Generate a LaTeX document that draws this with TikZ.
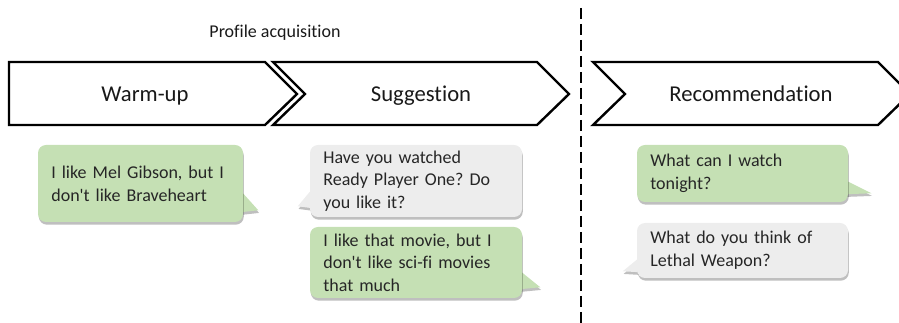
\documentclass[tikz,border=0pt]{standalone}
\usepackage{fontspec}
\setmainfont{Carlito}[Ligatures={NoCommon}]
\usetikzlibrary{shadows,backgrounds}
\definecolor{usergreen}{HTML}{C5E0B4}
\definecolor{botgrey}{HTML}{EDEDED}
\frenchspacing

\begin{document}
\begin{tikzpicture}[x=0.75pt,y=-0.75pt]
  \tikzset{stage/.style={draw=black, line width=1.8pt, line join=miter}}
  \tikzset{stage label/.style={font=\fontsize{17}{20}\selectfont, text=black!90, anchor=base}}
  \tikzset{soft shadow/.style={drop shadow={shadow xshift=0.6pt, shadow yshift=-2pt, fill=black, opacity=0.25}}}
  \tikzset{msg/.style={rounded corners=6pt, inner xsep=10pt, inner ysep=0pt, align=left,
      font=\fontsize{13.5}{17}\selectfont, text=black!85, soft shadow}}
  \tikzset{user/.style={msg, fill=usergreen}}
  \tikzset{bot/.style={msg, fill=botgrey}}

  \useasboundingbox (0,0) rectangle (899,323);
  \clip (0,0) rectangle (899,323);

  % phases
  \node[font=\fontsize{13.5}{16}\selectfont, text=black!90, anchor=base] (profile) at (275,38) {Profile acquisition};
  \draw[stage] (9,62) -- (265,62) -- (297,94) -- (265,125) -- (9,125) -- cycle;
  \draw[stage] (273,62) -- (537,62) -- (569,94) -- (537,125) -- (273,125) -- (305,94) -- cycle;
  \draw[stage] (593,62) -- (878,62) -- (910,94) -- (878,125) -- (593,125) -- (625,94) -- cycle;
  \node[stage label] (warmup) at (145,102) {Warm-up};
  \node[stage label] (suggestion) at (421,102) {Suggestion};
  \node[stage label] (recommendation) at (751,102) {Recommendation};

  \coordinate (split top) at (581,8);
  \coordinate (split bottom) at (581,323);
  \draw[line width=1pt, dash pattern=on 8.25pt off 3.75pt] (split top) -- (split bottom);

  % messages
  \node[user, text width=133.75pt, minimum height=57.75pt] (mel) at (140.5,183.5)
    {I like Mel Gibson, but I\\ don\textquotesingle t like Braveheart};
  \node[bot, text width=139pt, minimum height=54pt] (rpo) at (416,181)
    {Have you watched\\ Ready Player One? Do\\ you like it?};
  \node[user, text width=139pt, minimum height=53.25pt] (scifi) at (416,262.5)
    {I like that movie, but I\\ don\textquotesingle t like sci-fi movies\\ that much};
  \node[user, text width=138.25pt, minimum height=42.75pt] (tonight) at (742.5,173.5)
    {What can I watch\\ tonight?};
  \node[bot, text width=138.25pt, minimum height=41.25pt] (lethal) at (742.5,250.5)
    {What do you think of\\ Lethal Weapon?};

  \begin{pgfonlayer}{background}
    \fill[usergreen, soft shadow] (mel.south east) ++(-3,-32) -- ++(18,20) -- ++(-18,2) -- cycle;
    \fill[botgrey, soft shadow] (rpo.south west) ++(3,-29) -- ++(-15,18) -- ++(15,2) -- cycle;
    \fill[usergreen, soft shadow] (scifi.south east) ++(-3,-28) -- ++(21,17) -- ++(-21,2) -- cycle;
    \fill[usergreen, soft shadow] (tonight.south east) ++(-3,-22) -- ++(26,13) -- ++(-26,1) -- cycle;
    \fill[botgrey, soft shadow] (lethal.south west) ++(3,-21) -- ++(-17,14) -- ++(17,1) -- cycle;
  \end{pgfonlayer}
\end{tikzpicture}
\end{document}
